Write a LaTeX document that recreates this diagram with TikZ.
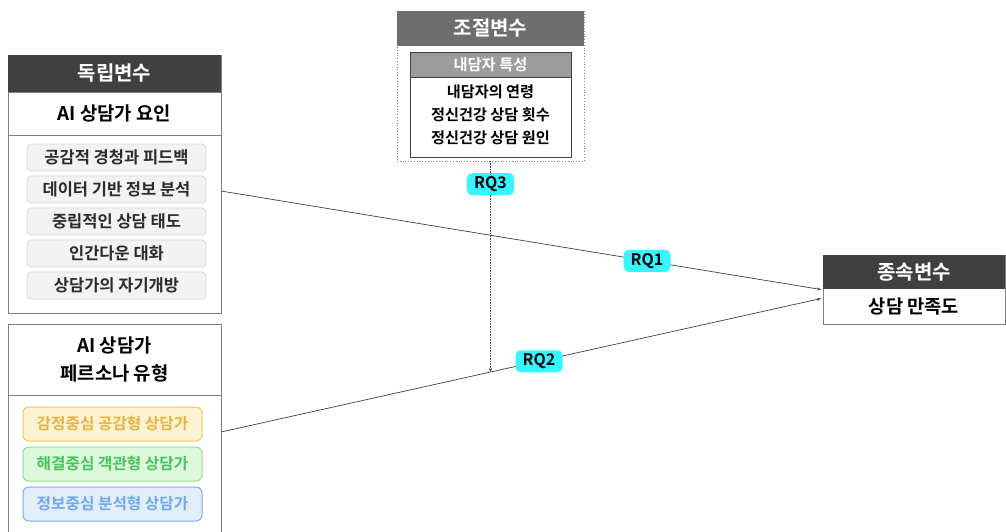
\documentclass[tikz,border=0pt]{standalone}
\usepackage{fontspec}
\setmainfont{Noto Sans CJK KR}[BoldFont={* Bold}]
\usetikzlibrary{arrows.meta}
\definecolor{hdark}{HTML}{404040}
\definecolor{hmid}{HTML}{6E6E6E}
\definecolor{hlight}{HTML}{9C9C9C}
\definecolor{bord}{HTML}{7F7F7F}
\definecolor{itemfill}{HTML}{F3F3F3}
\definecolor{itembord}{HTML}{D9D9D9}
\definecolor{itemtext}{HTML}{2B2B2B}
\definecolor{orfill}{HTML}{FFF3D6}
\definecolor{orbord}{HTML}{F2C94C}
\definecolor{ortext}{HTML}{E8B33A}
\definecolor{grfill}{HTML}{DDF8DD}
\definecolor{grbord}{HTML}{8EE08E}
\definecolor{grtext}{HTML}{45C45A}
\definecolor{blfill}{HTML}{E3EEF9}
\definecolor{blbord}{HTML}{72ADFA}
\definecolor{bltext}{HTML}{6EA8F0}
\definecolor{rqfill}{HTML}{33F8FF}
\definecolor{lineclr}{HTML}{404040}
\newcommand{\fsz}[1]{\fontsize{#1}{#1}\selectfont}
\tikzset{
  base/.style={anchor=north west, inner sep=0pt, outer sep=0pt, font=\bfseries},
  frame/.style={base, draw=bord, line width=0.8pt},
  headbox/.style={base, fill=hdark, text=white, font=\bfseries\fsz{20}},
  titlebox/.style={base, draw=bord, line width=0.8pt, font=\bfseries\fsz{18.8}, align=center},
  itembox/.style={base, rounded corners=4pt, fill=itemfill, draw=itembord, line width=0.8pt, text=itemtext, font=\bfseries\fsz{16.5}, minimum width=179pt, minimum height=27pt},
  persona/.style={base, rounded corners=6pt, line width=1pt, font=\bfseries\fsz{15.7}, minimum width=179pt, minimum height=34pt},
  rq/.style={fill=rqfill, rounded corners=5pt, inner sep=0pt, minimum width=47pt, minimum height=22pt, font=\bfseries\fsz{16}, text=black},
  arr/.style={draw=lineclr, line width=0.7pt, -{Stealth[length=4pt,width=3pt]}},
}
\begin{document}
\begin{tikzpicture}[x=1pt,y=-1pt]
\useasboundingbox (0,0) rectangle (1006,531);
\fill[white] (0,0) rectangle (1006,531);

% Independent variables box
\node[frame, minimum width=213pt, minimum height=258pt] (iv) at (8,55) {};
\node[headbox, minimum width=213pt, minimum height=37pt] (ivh) at (8,55) {독립변수};
\node[titlebox, minimum width=213pt, minimum height=43pt] (ivt) at (8,92) {AI 상담가 요인};
\node[itembox] (i1) at (27,144) {공감적 경청과 피드백};
\node[itembox] (i2) at (27,176) {데이터 기반 정보 분석};
\node[itembox] (i3) at (27,208) {중립적인 상담 태도};
\node[itembox] (i4) at (27,240) {인간다운 대화};
\node[itembox] (i5) at (27,272) {상담가의 자기개방};

% Persona box
\node[frame, minimum width=213pt, minimum height=216pt] (pv) at (8,324) {};
\node[titlebox, minimum width=213pt, minimum height=71pt, font=\bfseries\fontsize{18.8}{28}\selectfont] (pvt) at (8,324) {AI 상담가\\페르소나 유형};
\node[persona, fill=orfill, draw=orbord, text=ortext] (p1) at (23,407) {감정중심 공감형 상담가};
\node[persona, fill=grfill, draw=grbord, text=grtext] (p2) at (23,447) {해결중심 객관형 상담가};
\node[persona, fill=blfill, draw=blbord, text=bltext] (p3) at (23,487) {정보중심 분석형 상담가};

% Moderator box
\node[base, draw=bord, dotted, line width=0.8pt, minimum width=187pt, minimum height=150pt] (mod) at (397,11) {};
\node[base, fill=hmid, text=white, font=\bfseries\fsz{20}, minimum width=187pt, minimum height=35pt] (modh) at (397,11) {조절변수};
\node[base, draw=hdark, line width=0.9pt, minimum width=161pt, minimum height=105pt] (inner) at (410,52) {};
\node[base, draw=hdark, fill=hlight, text=white, line width=0.9pt, font=\bfseries\fsz{15.3}, minimum width=161pt, minimum height=25pt] (innerh) at (410,52) {내담자 특성};
\node[font=\bfseries\fontsize{15.2}{23}\selectfont, align=center, inner sep=0pt] (innerb) at (490.5,115) {내담자의 연령\\정신건강 상담 횟수\\정신건강 상담 원인};

% Dependent box
\node[frame, minimum width=182pt, minimum height=69pt] (dv) at (823,255) {};
\node[headbox, minimum width=182pt, minimum height=34pt] (dvh) at (823,255) {종속변수};
\node[base, font=\bfseries\fsz{18.7}, minimum width=182pt, minimum height=35pt] (dvt) at (823,289) {상담 만족도};

% Connectors
\draw[arr] ([yshift=-7pt]iv.east) -- node[rq, pos=0.71] (rq1) {RQ1} ([xshift=-2pt]dv.west);
\draw[arr] (pv.east) -- coordinate[pos=0.449] (m) node[rq, pos=0.53] (rq2) {RQ2} ([xshift=-2pt,yshift=-9pt]dv.west);
\draw[draw=lineclr, line width=0.6pt, densely dotted, -{Stealth[length=4pt,width=3pt]}] (mod.south) -- node[rq, pos=0.11] (rq3) {RQ3} (mod.south |- m);
\end{tikzpicture}
\end{document}
